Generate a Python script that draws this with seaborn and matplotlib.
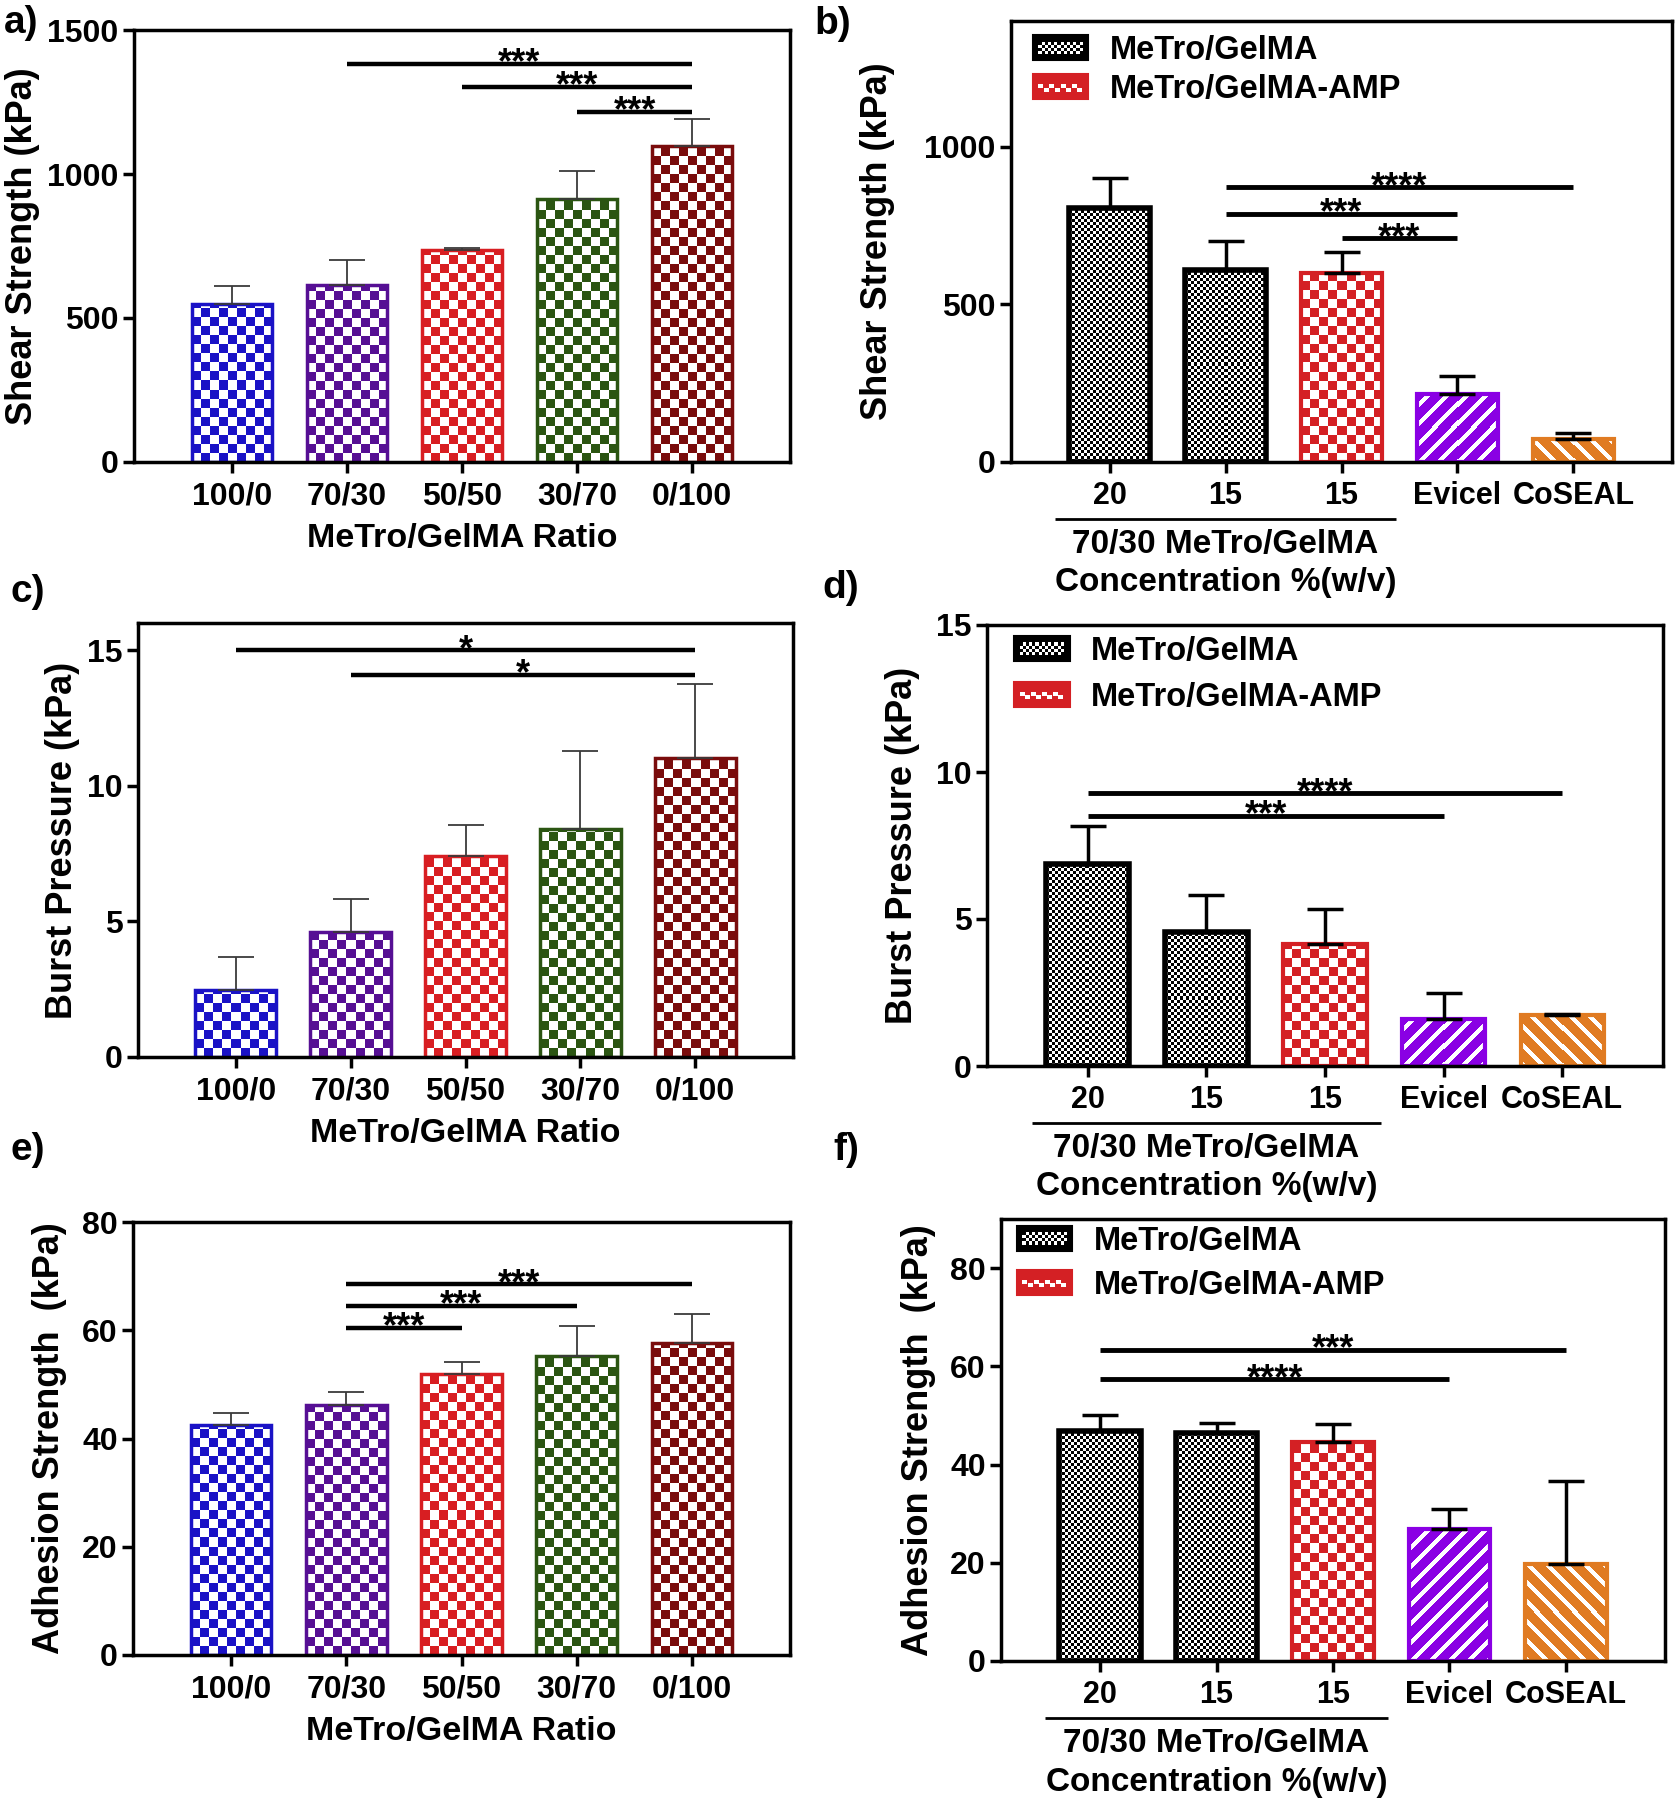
import numpy as np
import pandas as pd
import matplotlib
matplotlib.use("Agg")
import matplotlib.pyplot as plt
import seaborn as sns
from matplotlib.patches import Rectangle, Patch
from matplotlib.legend_handler import HandlerBase
from matplotlib.colors import to_rgb

sns.set_style("ticks")
plt.rcParams["font.family"] = ["Liberation Sans", "DejaVu Sans"]
plt.rcParams["font.weight"] = "bold"
plt.rcParams["axes.labelweight"] = "bold"
for k in ["text.color", "axes.labelcolor", "xtick.color", "ytick.color", "axes.edgecolor"]:
    plt.rcParams[k] = "black"

# ---------------- data ----------------
ratio_labels = ["100/0", "70/30", "50/50", "30/70", "0/100"]
ratio_colors = ["#1a12c6", "#560f94", "#d81e22", "#2b5512", "#7a0c0c"]
ratio_kinds = ["check"] * 5

shear_ratio_mean = [549, 614, 735, 912, 1096]
shear_ratio_err = [62, 87, 8, 99, 94]
burst_ratio_mean = [2.47, 4.60, 7.42, 8.39, 11.01]
burst_ratio_err = [1.22, 1.22, 1.13, 2.88, 2.75]
adh_ratio_mean = [42.5, 46.1, 52.0, 55.2, 57.7]
adh_ratio_err = [2.2, 2.4, 2.1, 5.6, 5.3]

group_keys = ["MeTro/GelMA 20", "MeTro/GelMA 15", "MeTro/GelMA-AMP 15", "Evicel", "CoSEAL"]
group_ticklabels = ["20", "15", "15", "Evicel", "CoSEAL"]
group_colors = ["#000000", "#000000", "#d42024", "#8a00e4", "#e07b22"]
group_kinds = ["fine", "fine", "check", "fwd", "back"]

shear_group_mean = [806, 611, 601, 216, 73]
shear_group_err = [96, 89, 66, 56, 19]
burst_group_mean = [6.87, 4.57, 4.14, 1.59, 1.73]
burst_group_err = [1.31, 1.24, 1.20, 0.91, 0.04]
adh_group_mean = [46.8, 46.4, 44.6, 26.8, 19.8]
adh_group_err = [3.3, 2.0, 3.6, 4.1, 16.9]

legend_labels = ["MeTro/GelMA", "MeTro/GelMA-AMP"]

# significance brackets: (from, to, height, stars)
sig_a = [(1, 4, 1383, "***"), (2, 4, 1303, "***"), (3, 4, 1217, "***")]
sig_b = [(1, 4, 873, "****"), (1, 3, 788, "***"), (2, 3, 710, "***")]
sig_c = [(0, 4, 15.0, "*"), (1, 4, 14.09, "*")]
sig_d = [(0, 4, 9.28, "****"), (0, 3, 8.51, "***")]
sig_e = [(1, 4, 68.5, "***"), (1, 3, 64.5, "***"), (1, 2, 60.5, "***")]
sig_f = [(0, 4, 63.4, "***"), (0, 3, 57.4, "****")]

# ---------------- figure ----------------
W, H = 1680, 1800
fig = plt.figure(figsize=(W / 100, H / 100), dpi=100)

TICK_FS = 23


def add_ax(l, r, t, b):
    return fig.add_axes([l / W, 1 - b / H, (r - l) / W, (b - t) / H])


def pattern_image(kind, color, wpx, hpx):
    yy, xx = np.mgrid[0:hpx, 0:wpx]
    if kind == "check":
        white = ((xx // 9) + (yy // 9)) % 2 == 0
    elif kind == "fine":
        white = ((xx // 3) + (yy // 3)) % 2 == 0
    elif kind == "fwd":
        white = ((xx - yy) % 19) < 6
    else:
        white = ((xx + yy) % 19) < 6
    img = np.empty((hpx, wpx, 3))
    img[:] = to_rgb(color)
    img[white] = 1.0
    return img


def style_axes(ax, ylim, yticks, xfs):
    ax.set_xlim(-0.85, 4.85)
    ax.set_ylim(*ylim)
    ax.set_yticks(yticks)
    for s in ax.spines.values():
        s.set_linewidth(2.5)
        s.set_color("black")
    ax.tick_params(axis="both", which="both", direction="out", length=8, width=2.5,
                   labelsize=TICK_FS, top=False, right=False)
    ax.tick_params(axis="x", pad=6, labelsize=xfs)
    ax.tick_params(axis="y", pad=3)
    for t in ax.get_xticklabels() + ax.get_yticklabels():
        t.set_fontweight("bold")


def draw_bars(ax, keys, ticklabels, means, errs, colors, kinds, edge_lws,
              err_color, err_lw, ylim, yticks, xfs=TICK_FS):
    df = pd.DataFrame({"group": keys, "value": means})
    sns.barplot(data=df, x="group", y="value", hue="group", order=keys, hue_order=keys,
                palette=colors, width=0.7, saturation=1, legend=False, errorbar=None, ax=ax)
    style_axes(ax, ylim, yticks, xfs)
    bars = sorted(ax.patches, key=lambda p: p.get_x())
    for p, c, k, lw in zip(bars, colors, kinds, edge_lws):
        x0, w, h = p.get_x(), p.get_width(), p.get_height()
        (px0, py0), (px1, py1) = ax.transData.transform([(x0, 0), (x0 + w, h)])
        wpx = max(1, int(round(px1 - px0)))
        hpx = max(1, int(round(py1 - py0)))
        ax.imshow(pattern_image(k, c, wpx, hpx), extent=(x0, x0 + w, 0, h), origin="lower",
                  interpolation="nearest", aspect="auto", zorder=1.5)
        p.set_facecolor("none")
        p.set_edgecolor(c)
        p.set_linewidth(lw)
        p.set_zorder(2)
    n = len(keys)
    ax.errorbar(range(n), means, yerr=[np.zeros(n), errs], fmt="none", ecolor=err_color,
                elinewidth=err_lw, capsize=13, capthick=err_lw, zorder=3)
    ax.set_xticks(range(n))
    ax.set_xticklabels(ticklabels, fontsize=xfs, fontweight="bold")
    style_axes(ax, ylim, yticks, xfs)
    ax.set_xlabel("")


def add_sig(ax, sigs, lw):
    for i, j, y, lab in sigs:
        ax.plot([i, j], [y, y], color="black", lw=lw, solid_capstyle="butt", zorder=4,
                clip_on=False)
        ax.annotate(lab, xy=((i + j) / 2, y), xytext=(0, -7), textcoords="offset points",
                    ha="center", va="baseline", fontsize=26, fontweight="bold", zorder=5)


class PatternHandler(HandlerBase):
    def __init__(self, color, kind):
        super().__init__()
        self.color = color
        self.kind = kind

    def create_artists(self, legend, orig_handle, xdescent, ydescent, width, height,
                       fontsize, trans):
        x0, y0 = -xdescent, -ydescent
        arts = [Rectangle((x0, y0), width, height, facecolor=self.color,
                          edgecolor=self.color, lw=1.5, transform=trans)]
        if self.kind == "fine":
            nx, ny = 14, 4
            ix0, iw = x0 + 0.1 * width, 0.8 * width
            iy0, ih = y0 + 0.25 * height, 0.5 * height
            dx, dy = iw / nx, ih / ny
            for i in range(nx):
                for j in range(ny):
                    if (i + j) % 2 == 0:
                        arts.append(Rectangle((ix0 + i * dx, iy0 + j * dy), dx, dy,
                                              facecolor="white", lw=0, transform=trans))
        else:
            nx = 8
            dx = 0.8 * width / nx
            for i in range(nx):
                yy = y0 + (0.45 if i % 2 == 0 else 0.3) * height
                arts.append(Rectangle((x0 + 0.1 * width + i * dx, yy), dx * 0.9, 0.16 * height,
                                      facecolor="white", lw=0, transform=trans))
        return arts


def add_group_legend(ax, anchor, spacing):
    h1 = Patch(facecolor="black")
    h2 = Patch(facecolor="#d42024")
    ax.legend([h1, h2], legend_labels, loc="upper left", bbox_to_anchor=anchor,
              frameon=False, borderaxespad=0, borderpad=0, handlelength=1.7,
              handleheight=0.8, handletextpad=0.66, labelspacing=spacing,
              prop={"weight": "bold", "size": 23.5},
              handler_map={h1: PatternHandler("black", "fine"),
                           h2: PatternHandler("#d42024", "check")})


def add_group_xlabel(ax):
    trans = ax.get_xaxis_transform()
    ax.plot([-0.47, 2.47], [-0.129, -0.129], transform=trans, color="black", lw=2,
            clip_on=False, solid_capstyle="butt")
    ax.text(1.0, -0.186, "70/30 MeTro/GelMA", transform=trans, ha="center", va="center",
            fontsize=24, fontweight="bold")
    ax.text(1.0, -0.274, "Concentration %(w/v)", transform=trans, ha="center", va="center",
            fontsize=24, fontweight="bold")


ratio_edges = [2.5] * 5
group_edges = [4, 4, 3, 3, 3]
GROUP_XFS = 22

# ---- a ----
ax_a = add_ax(134, 790, 30, 462)
draw_bars(ax_a, ratio_labels, ratio_labels, shear_ratio_mean, shear_ratio_err, ratio_colors,
          ratio_kinds, ratio_edges, "#3a3a3a", 1.3, (0, 1500), [0, 500, 1000, 1500])
add_sig(ax_a, sig_a, 3.2)
ax_a.set_ylabel("Shear Strength (kPa)", fontsize=26, fontweight="bold")
ax_a.yaxis.set_label_coords(-0.143, 0.5)
ax_a.set_xlabel("MeTro/GelMA Ratio", fontsize=24.5, fontweight="bold", labelpad=8)

# ---- b ----
ax_b = add_ax(1011, 1672, 21, 462)
draw_bars(ax_b, group_keys, group_ticklabels, shear_group_mean, shear_group_err, group_colors,
          group_kinds, group_edges, "black", 2.5, (0, 1400), [0, 500, 1000], GROUP_XFS)
add_sig(ax_b, sig_b, 3.5)
ax_b.set_ylabel("Shear Strength (kPa)", fontsize=26, fontweight="bold")
ax_b.yaxis.set_label_coords(-0.176, 0.5)
add_group_legend(ax_b, (0.033, 0.968), 0.25)
add_group_xlabel(ax_b)

# ---- c ----
ax_c = add_ax(138, 793, 623, 1057)
draw_bars(ax_c, ratio_labels, ratio_labels, burst_ratio_mean, burst_ratio_err, ratio_colors,
          ratio_kinds, ratio_edges, "#3a3a3a", 1.3, (0, 16), [0, 5, 10, 15])
add_sig(ax_c, sig_c, 3.2)
ax_c.set_ylabel("Burst Pressure (kPa)", fontsize=26, fontweight="bold")
ax_c.yaxis.set_label_coords(-0.089, 0.5)
ax_c.set_xlabel("MeTro/GelMA Ratio", fontsize=24.5, fontweight="bold", labelpad=8)

# ---- d ----
ax_d = add_ax(987, 1663, 625, 1066)
draw_bars(ax_d, group_keys, group_ticklabels, burst_group_mean, burst_group_err, group_colors,
          group_kinds, group_edges, "black", 2.5, (0, 15), [0, 5, 10, 15], GROUP_XFS)
add_sig(ax_d, sig_d, 3.5)
ax_d.set_ylabel("Burst Pressure (kPa)", fontsize=26, fontweight="bold")
ax_d.yaxis.set_label_coords(-0.099, 0.5)
add_group_legend(ax_d, (0.04, 0.975), 0.45)
add_group_xlabel(ax_d)

# ---- e ----
ax_e = add_ax(133, 790, 1222, 1655)
draw_bars(ax_e, ratio_labels, ratio_labels, adh_ratio_mean, adh_ratio_err, ratio_colors,
          ratio_kinds, ratio_edges, "#3a3a3a", 1.3, (0, 80), [0, 20, 40, 60, 80])
add_sig(ax_e, sig_e, 3.2)
ax_e.set_ylabel("Adhesion Strength  (kPa)", fontsize=26, fontweight="bold")
ax_e.yaxis.set_label_coords(-0.100, 0.5)
ax_e.set_xlabel("MeTro/GelMA Ratio", fontsize=24.5, fontweight="bold", labelpad=8)

# ---- f ----
ax_f = add_ax(1001, 1665, 1219, 1661)
draw_bars(ax_f, group_keys, group_ticklabels, adh_group_mean, adh_group_err, group_colors,
          group_kinds, group_edges, "black", 2.5, (0, 90), [0, 20, 40, 60, 80], GROUP_XFS)
add_sig(ax_f, sig_f, 3.5)
ax_f.set_ylabel("Adhesion Strength  (kPa)", fontsize=26, fontweight="bold")
ax_f.yaxis.set_label_coords(-0.098, 0.5)
add_group_legend(ax_f, (0.024, 0.985), 0.4)
add_group_xlabel(ax_f)

# panel letters
for lab, (x, y) in zip(["a)", "b)", "c)", "d)", "e)", "f)"],
                       [(21, 23), (833, 24), (28, 592), (841, 588), (28, 1150), (846, 1150)]):
    fig.text(x / W, 1 - y / H, lab, ha="center", va="center", fontsize=28, fontweight="bold")

fig.savefig("out.png", dpi=100)
